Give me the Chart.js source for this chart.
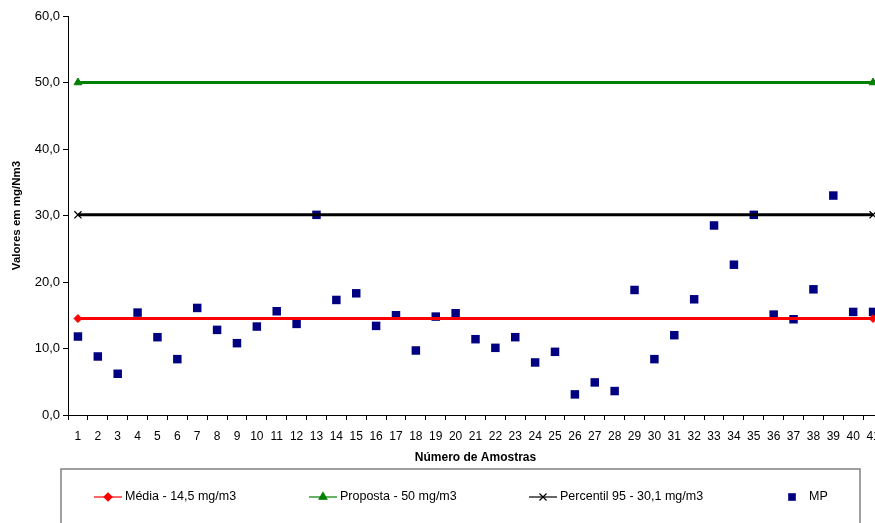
<!DOCTYPE html>
<html>
<head>
<meta charset="utf-8">
<script src="https://cdn.jsdelivr.net/npm/chart.js@4/dist/chart.umd.min.js"></script>
<style>
  html, body { margin: 0; padding: 0; background: #fff; overflow: hidden; }
  canvas { display: block; }
</style>
</head>
<body>
<canvas id="mpChart" width="890" height="523"></canvas>
<script>
// ── DADOS ────────────────────────────────────────────────────
const amostras = ['1', '2', '3', '4', '5', '6', '7', '8', '9', '10',
  '11', '12', '13', '14', '15', '16', '17', '18', '19', '20',
  '21', '22', '23', '24', '25', '26', '27', '28', '29', '30',
  '31', '32', '33', '34', '35', '36', '37', '38', '39', '40', '41']

const mp = [11.8, 8.8, 6.2, 15.4, 11.7, 8.4, 16.1, 12.8, 10.8, 13.3,
  15.6, 13.7, 30.1, 17.3, 18.3, 13.4, 15.0, 9.7, 14.8, 15.3,
  11.4, 10.1, 11.7, 7.9, 9.5, 3.1, 4.9, 3.6, 18.8, 8.4,
  12.0, 17.4, 28.5, 22.6, 30.1, 15.1, 14.4, 18.9, 33.0, 15.5, 15.5]

const media = 14.5
const proposta = 50
const percentil95 = 30.1
const extremos = ['1', '41']

const yTicks = [0, 10, 20, 30, 40, 50, 60]

const fonte = "'Liberation Sans', Arial, sans-serif"
const num = v => v.toFixed(1).replace('.', ',')

// reta horizontal entre a primeira e a última amostra
const reta = v => extremos.map(x => ({ x, y: v }))

// ── LEGENDA EM CAIXA ─────────────────────────────────────────
const legendaBox = {
  id: 'legendaBox',
  afterDraw(chart) {
    const ctx = chart.ctx
    const y = 497
    ctx.save()
    ctx.strokeStyle = '#808080'
    ctx.lineWidth = 1.5
    ctx.strokeRect(61, 469, 799, 90)

    const itens = [
      { ds: 0, x: 94 },
      { ds: 1, x: 309 },
      { ds: 2, x: 529 },
      { ds: 3, x: 786 }
    ]
    ctx.font = '12.5px ' + fonte
    ctx.textBaseline = 'middle'
    itens.forEach(it => {
      const ds = chart.data.datasets[it.ds]
      ctx.fillStyle = ds.pointBackgroundColor
      ctx.strokeStyle = ds.pointBorderColor
      if (ds.showLine !== false) {
        ctx.lineWidth = 1.2
        ctx.strokeStyle = ds.borderColor
        ctx.beginPath()
        ctx.moveTo(it.x, y)
        ctx.lineTo(it.x + 28, y)
        ctx.stroke()
        ctx.strokeStyle = ds.pointBorderColor
        Chart.helpers.drawPoint(ctx, {
          pointStyle: ds.pointStyle, radius: ds.legendRadius, rotation: 0, borderWidth: 1.2
        }, it.x + 14, y)
        ctx.fillStyle = '#000'
        ctx.fillText(ds.label, it.x + 31, y)
      } else {
        Chart.helpers.drawPoint(ctx, {
          pointStyle: ds.pointStyle, radius: ds.legendRadius, rotation: 0, borderWidth: 0
        }, it.x + 6, y)
        ctx.fillStyle = '#000'
        ctx.fillText(ds.label, it.x + 23, y)
      }
    })
    ctx.restore()
  }
}

// ── GRÁFICO ──────────────────────────────────────────────────
const ctx = document.getElementById('mpChart').getContext('2d')
new Chart(ctx, {
  type: 'line',
  data: {
    labels: amostras,
    datasets: [
      {
        label: 'Média - 14,5 mg/m3',
        data: reta(media),
        borderColor: '#ff0000',
        borderWidth: 3,
        pointStyle: 'rectRot',
        pointRadius: 4,
        legendRadius: 4,
        pointBackgroundColor: '#ff0000',
        pointBorderColor: '#ff0000',
        pointBorderWidth: 1
      },
      {
        label: 'Proposta - 50 mg/m3',
        data: reta(proposta),
        borderColor: '#008000',
        borderWidth: 3,
        pointStyle: 'triangle',
        pointRadius: 4.5,
        legendRadius: 4.5,
        pointBackgroundColor: '#008000',
        pointBorderColor: '#008000',
        pointBorderWidth: 1
      },
      {
        label: 'Percentil 95 - 30,1 mg/m3',
        data: reta(percentil95),
        borderColor: '#000000',
        borderWidth: 3,
        pointStyle: 'crossRot',
        pointRadius: 5,
        legendRadius: 5,
        pointBackgroundColor: '#000000',
        pointBorderColor: '#000000',
        pointBorderWidth: 1.3
      },
      {
        label: 'MP',
        data: mp,
        showLine: false,
        pointStyle: 'rect',
        pointRadius: 6,
        legendRadius: 5.4,
        pointBackgroundColor: '#000080',
        pointBorderColor: '#000080',
        pointBorderWidth: 0
      }
    ]
  },
  options: {
    responsive: false,
    animation: false,
    layout: { padding: { left: 0, top: 16, right: 7, bottom: 53 } },
    plugins: {
      legend: { display: false },
      tooltip: { enabled: false }
    },
    scales: {
      x: {
        type: 'category',
        offset: true,
        afterFit: s => { s.height = 55 },
        grid: {
          offset: true,
          drawOnChartArea: false,
          drawTicks: true,
          tickLength: 5,
          color: '#000'
        },
        border: { display: true, color: '#000', width: 1 },
        ticks: {
          autoSkip: false,
          maxRotation: 0,
          padding: 9,
          color: '#000',
          font: { family: fonte, size: 12 }
        },
        title: {
          display: true,
          text: 'Número de Amostras',
          color: '#000',
          padding: { top: 0, bottom: 5 },
          font: { family: fonte, size: 12, weight: 'bold' }
        }
      },
      y: {
        min: 0,
        max: 60,
        afterFit: s => { s.width = 68 },
        afterBuildTicks: s => { s.ticks = yTicks.map(value => ({ value })) },
        grid: {
          drawOnChartArea: false,
          drawTicks: true,
          tickLength: 5,
          color: '#000'
        },
        border: { display: true, color: '#000', width: 1 },
        ticks: {
          padding: 3,
          color: '#000',
          font: { family: fonte, size: 13 },
          callback: v => num(v)
        },
        title: {
          display: true,
          text: 'Valores em mg/Nm3',
          color: '#000',
          padding: { top: 10, bottom: 0 },
          font: { family: fonte, size: 11.5, weight: 'bold' }
        }
      }
    }
  },
  plugins: [legendaBox]
})
</script>
</body>
</html>
